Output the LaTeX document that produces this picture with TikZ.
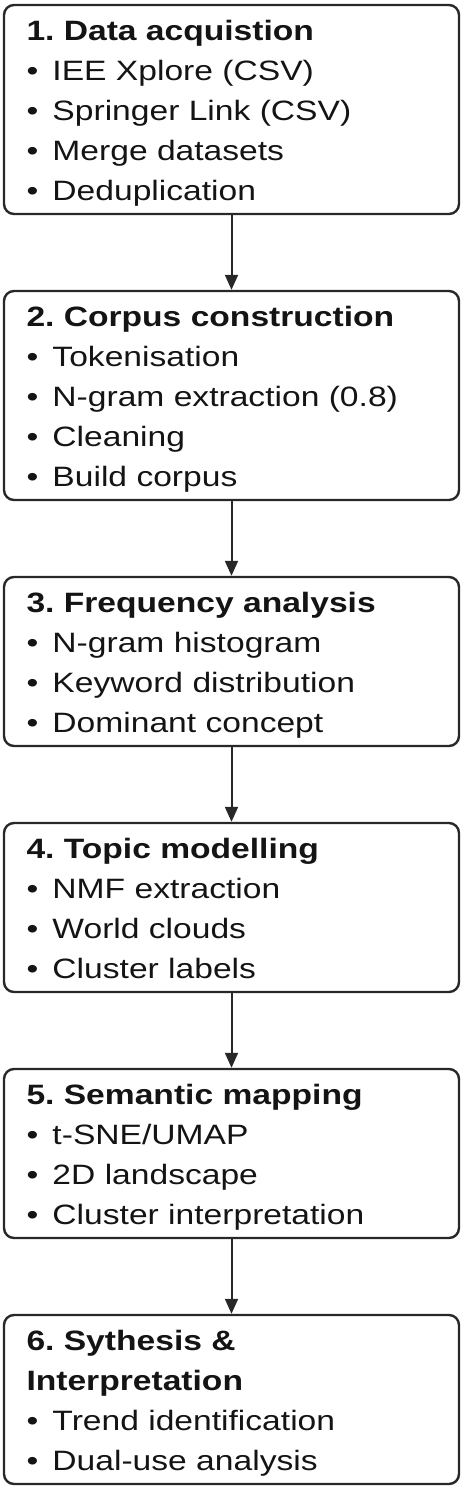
\documentclass[tikz,border=0pt]{standalone}
\usepackage{fontspec}
\setmainfont{Liberation Sans}[FakeStretch=1.2]
\usepackage{xcolor}
\usepackage{tikz}
\usetikzlibrary{arrows.meta,positioning}
\definecolor{lineCol}{RGB}{40,40,40}
\definecolor{textCol}{RGB}{20,20,20}
\newcommand{\stagetitle}[1]{\rule{0pt}{17.5pt}\textbf{#1}}
\newcommand{\bul}{\makebox[13pt][l]{\textbullet}}
\newcommand{\laststrut}{\rule[-7pt]{0pt}{7pt}}
\tikzset{
  stage/.style={draw=lineCol, rounded corners=5pt, line width=1.2pt, align=left,
                text=textCol, font=\fontsize{14}{20}\selectfont\frenchspacing,
                text width=205pt, inner xsep=11.25pt, inner ysep=0pt, outer sep=0pt},
  flow/.style={-{Triangle[length=7.5pt,width=6.5pt]}, line width=1pt, lineCol,
               shorten >=0.6pt},
}

\begin{document}
\begin{tikzpicture}
  \useasboundingbox (0,0) rectangle (231.5pt,-744.5pt);
  % pipeline stages
  \node[stage, anchor=north] (acq) at (115.75pt,-2.5pt)
    {\stagetitle{1. Data acquistion}\\\bul IEE Xplore (CSV)\\\bul Springer Link (CSV)\\\bul Merge datasets\\\bul Deduplication\laststrut};
  \node[stage, below=38.5pt of acq] (corp)
    {\stagetitle{2. Corpus construction}\\\bul Tokenisation\\\bul N-gram extraction (0.8)\\\bul Cleaning\\\bul Build corpus\laststrut};
  \node[stage, below=38.5pt of corp] (freq)
    {\stagetitle{3. Frequency analysis}\\\bul N-gram histogram\\\bul Keyword distribution\\\bul Dominant concept\laststrut};
  \node[stage, below=38.5pt of freq] (topic)
    {\stagetitle{4. Topic modelling}\\\bul NMF extraction\\\bul World clouds\\\bul Cluster labels\laststrut};
  \node[stage, below=38.5pt of topic] (sem)
    {\stagetitle{5. Semantic mapping}\\\bul t-SNE/UMAP\\\bul 2D landscape\\\bul Cluster interpretation\laststrut};
  \node[stage, below=38.5pt of sem] (synth)
    {\stagetitle{6. Sythesis \&}\\\textbf{Interpretation}\\\bul Trend identification\\\bul Dual-use analysis\laststrut};

  % arrows between stages
  \draw[flow] (acq) -- (corp);
  \draw[flow] (corp) -- (freq);
  \draw[flow] (freq) -- (topic);
  \draw[flow] (topic) -- (sem);
  \draw[flow] (sem) -- (synth);
\end{tikzpicture}
\end{document}
